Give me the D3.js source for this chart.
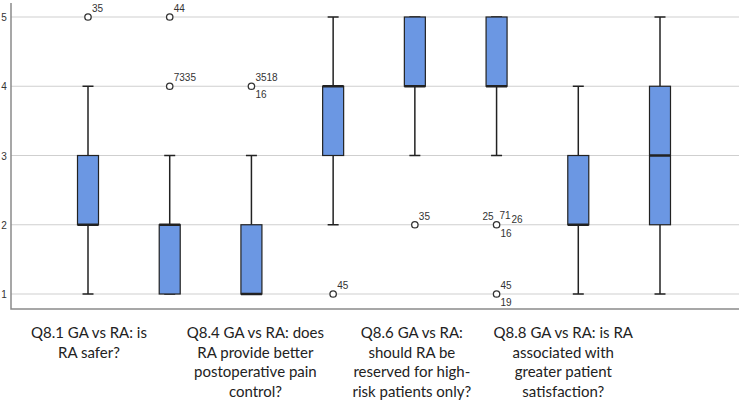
<!doctype html>
<html>
  <head>
    <meta charset="utf-8">
    <title>GA vs RA boxplots</title>
    <style>
      body { margin: 0; background: #fff; }
    </style>
  </head>
  <body>
    <svg width='739' height='400'></svg>

  <script src='https://d3js.org/d3.v7.min.js'></script>
  <script>
// Five-number summaries for each box.
var boxes = ['b1', 'b2', 'b3', 'b4', 'b5', 'b6', 'b7', 'b8'];
var mins    = [1, 1, 1, 2, 3, 3, 1, 1];
var q1s     = [2, 1, 1, 3, 4, 4, 2, 2];
var medians = [2, 2, 1, 4, 4, 4, 2, 3];
var q3s     = [3, 2, 2, 4, 5, 5, 3, 4];
var maxs    = [4, 3, 3, 5, 5, 5, 4, 5];

// Outliers: box index, value, case labels.
var outliers = [
  [0, 5, ['35']],
  [1, 5, ['44']],
  [1, 4, ['7335']],
  [2, 4, ['3518', '16']],
  [3, 1, ['45']],
  [4, 2, ['35']],
  [5, 2, ['25', '71', '26', '16']],
  [5, 1, ['45', '19']]
];

var yTicks = [1, 2, 3, 4, 5];
var questions = [
  ['Q8.1 GA vs RA: is', 'RA safer?'],
  ['Q8.4 GA vs RA: does', 'RA provide better', 'postoperative pain', 'control?'],
  ['Q8.6 GA vs RA:', 'should RA be', 'reserved for high-', 'risk patients only?'],
  ['Q8.8 GA vs RA: is RA', 'associated with', 'greater patient', 'satisfaction?']
];

var svg = d3.select('svg'),
  left = 11, right = 739, bottom = 309;

var x = d3.scalePoint().domain(boxes).range([88, 660]);
var y = d3.scaleLinear().domain([1, 5]).range([294, 17]);

// grid + axes
svg.selectAll('.grid').data(yTicks).enter().append('line')
  .attr('x1', left).attr('x2', right)
  .attr('y1', function(d) { return y(d); })
  .attr('y2', function(d) { return y(d); })
  .attr('stroke', '#cfcfcf').attr('stroke-width', 1.2);

svg.selectAll('.ytick').data(yTicks).enter().append('text')
  .attr('x', 4).attr('y', function(d) { return y(d) + 4; })
  .attr('text-anchor', 'middle')
  .attr('font-family', 'Liberation Sans, Arial, sans-serif')
  .attr('font-size', 10).attr('fill', '#333')
  .text(function(d) { return d; });

svg.append('path')
  .attr('d', 'M' + left + ',3V' + bottom + 'H' + right)
  .attr('fill', 'none').attr('stroke', '#8a8a8a').attr('stroke-width', 1.5);

// whiskers
var capW = 11, boxW = 21;
boxes.forEach(function(b, i) {
  var cx = x(b);
  var g = svg.append('g').attr('stroke', '#222');
  g.append('line').attr('x1', cx).attr('x2', cx)
    .attr('y1', y(maxs[i])).attr('y2', y(q3s[i])).attr('stroke-width', 1.5);
  g.append('line').attr('x1', cx).attr('x2', cx)
    .attr('y1', y(q1s[i])).attr('y2', y(mins[i])).attr('stroke-width', 1.5);
  g.append('line').attr('x1', cx - capW / 2).attr('x2', cx + capW / 2)
    .attr('y1', y(maxs[i])).attr('y2', y(maxs[i])).attr('stroke-width', 1.5);
  g.append('line').attr('x1', cx - capW / 2).attr('x2', cx + capW / 2)
    .attr('y1', y(mins[i])).attr('y2', y(mins[i])).attr('stroke-width', 1.5);
  g.append('rect')
    .attr('x', cx - boxW / 2).attr('width', boxW)
    .attr('y', y(q3s[i])).attr('height', y(q1s[i]) - y(q3s[i]))
    .attr('fill', '#6b97e3').attr('stroke-width', 1.2);
  g.append('line').attr('x1', cx - boxW / 2).attr('x2', cx + boxW / 2)
    .attr('y1', y(medians[i])).attr('y2', y(medians[i])).attr('stroke-width', 2.5);
});

// outliers and their case labels
var labelSpots = {
  1: [[4, -5]],
  2: [[4, -5], [4, 12]],
  4: [[-14, -5], [3, -6], [15, -2], [4, 12]]
};
outliers.forEach(function(o) {
  var cx = x(boxes[o[0]]), cy = y(o[1]);
  svg.append('circle').attr('cx', cx).attr('cy', cy).attr('r', 3.2)
    .attr('fill', '#fff').attr('stroke', '#333').attr('stroke-width', 1.3);
  var spots = labelSpots[o[2].length];
  o[2].forEach(function(t, k) {
    svg.append('text')
      .attr('x', cx + spots[k][0]).attr('y', cy + spots[k][1])
      .attr('font-family', 'Liberation Sans, Arial, sans-serif')
      .attr('font-size', 10).attr('fill', '#333')
      .text(t);
  });
});

// question labels under every other box
questions.forEach(function(lines, i) {
  var t = svg.append('text')
    .attr('x', x(boxes[i * 2]) + [1, 4, -3, -15][i])
    .attr('y', 338)
    .attr('text-anchor', 'middle')
    .attr('font-family', 'Lato, sans-serif')
    .attr('font-size', 15).attr('fill', '#222');
  lines.forEach(function(l, k) {
    t.append('tspan').attr('x', t.attr('x')).attr('dy', k ? 19.5 : 0).text(l);
  });
});
  </script>
  </body>
</html>
